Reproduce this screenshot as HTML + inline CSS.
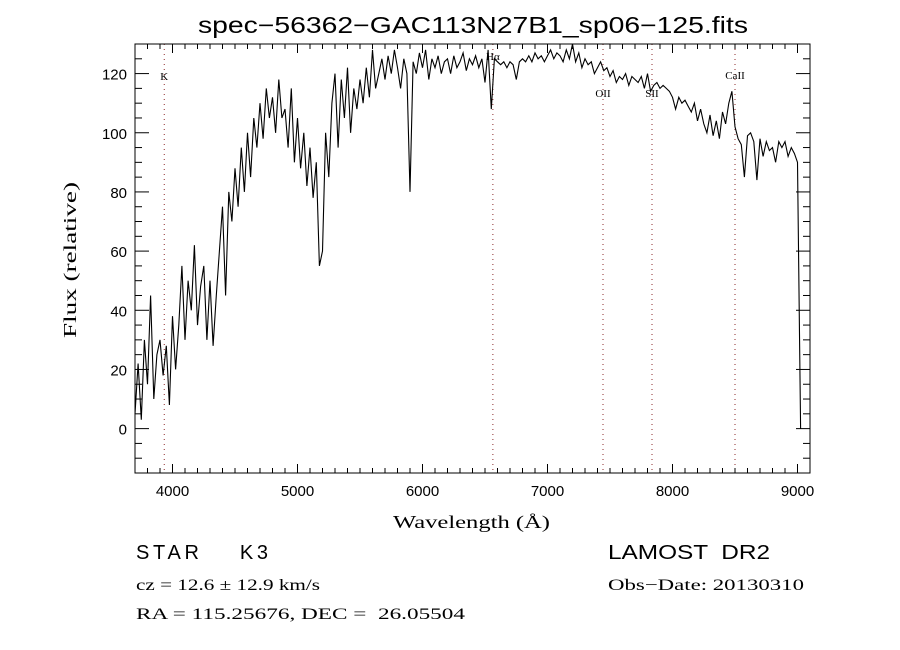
<!DOCTYPE html>
<html><head><meta charset="utf-8"><style>
body{margin:0;background:#fff;}
svg text{fill:#000;white-space:pre;}
</style></head><body>
<svg id="chart" width="900" height="650" xmlns="http://www.w3.org/2000/svg" xml:space="preserve" style="display:block;background:#fff">
<text x="198" y="33" textLength="550" lengthAdjust="spacingAndGlyphs" font-family="Liberation Sans, sans-serif" font-size="23">spec−56362−GAC113N27B1_sp06−125.fits</text>
<g id="lines"></g>
<g id="axes"></g>
<g id="series"></g>
<text x="393" y="528" textLength="157" lengthAdjust="spacingAndGlyphs" font-family="Liberation Serif, serif" font-size="18">Wavelength (Å)</text>
<text transform="translate(76,338) rotate(-90)" textLength="156" lengthAdjust="spacingAndGlyphs" font-family="Liberation Serif, serif" font-size="18">Flux (relative)</text>
<text x="136" y="559" textLength="132" lengthAdjust="spacing" font-family="Liberation Sans, sans-serif" font-size="20">STAR    K3</text>
<text x="608" y="559" textLength="162" lengthAdjust="spacingAndGlyphs" font-family="Liberation Sans, sans-serif" font-size="20">LAMOST  DR2</text>
<text x="136" y="590" textLength="184" lengthAdjust="spacingAndGlyphs" font-family="Liberation Serif, serif" font-size="16">cz = 12.6 ± 12.9 km/s</text>
<text x="608" y="590" textLength="196" lengthAdjust="spacingAndGlyphs" font-family="Liberation Serif, serif" font-size="16">Obs−Date: 20130310</text>
<text x="136" y="619" textLength="329" lengthAdjust="spacingAndGlyphs" font-family="Liberation Serif, serif" font-size="16">RA = 115.25676, DEC =  26.05504</text>
</svg>
<script>
const waveStart = 3700;
const waveStep = 25;
const flux = [5,22,3,30, 15,45,10,25, 30,18,28,8, 38,20,35,55, 30,50,40,62, 35,48,55,30, 50,28,45,60,
75,45,80,70, 88,75,95,80, 100,85,105,95, 110,98,115,105, 112,100,118,105, 108,95,115,90, 105,88,100,82,
95,78,90,55, 60,100,85,110, 120,95,118,105, 122,100,115,108, 118,110,122,112, 128,115,120,125,
118,126,120,128, 122,115,125,120, 80,124,120,127, 122,128,118,125, 122,126,120,124, 125,120,126,122,
124,127,121,125, 123,126,122,125, 117,128,108,125, 124,123,124,122, 124,123,118,124, 125,124,126,124,
127,125,126,124, 126,128,125,127, 126,124,128,125, 130,124,127,122, 125,123,124,120, 122,124,121,122,
119,121,117,119, 118,120,116,119, 118,117,119,115, 120,114,116,117, 115,116,115,114, 112,108,112,110,
111,109,107,110, 104,108,103,100, 106,99,104,98, 107,103,110,114, 102,98,96,85, 99,100,97,84,
98,92,97,94, 95,90,97,95, 97,92,95,93, 90,0];
const xTicks = [4000,5000,6000,7000,8000,9000];
const yTicks = [0,20,40,60,80,100,120];
const lineNames = ["K","Hα","OII","SII","CaII"];
const lineWaves = [3934,6563,7444,7836,8500];
const lineLabelY = [80,60,97,97,79];

const L=135,R=810,T=44,B=473, xMin=3700,xMax=9100,yMin=-15,yMax=130;
const X=w=>L+(w-xMin)/(xMax-xMin)*(R-L);
const Y=v=>B-(v-yMin)/(yMax-yMin)*(B-T);
const NS="http://www.w3.org/2000/svg";
function mk(tag,attrs,parent){const e=document.createElementNS(NS,tag);for(const k in attrs)e.setAttribute(k,attrs[k]);parent.appendChild(e);return e;}
const axes=document.getElementById('axes'), ser=document.getElementById('series'), lg=document.getElementById('lines');

lineWaves.forEach((w,i)=>{
  const l=mk('line',{x1:X(w),x2:X(w),y1:T,y2:B,stroke:'#8b2a2a','stroke-width':1,'stroke-dasharray':'1,4'},lg);
  
  
  const t=mk('text',{x:X(w),y:lineLabelY[i],'text-anchor':'middle','font-family':'Liberation Serif, serif','font-size':11},lg);
  
  
  t.textContent=lineNames[i];
});

let d='';
flux.forEach((v,i)=>{const w=waveStart+i*waveStep;d+=(i?'L':'M')+X(w).toFixed(1)+','+Y(v).toFixed(1);});
const p=mk('path',{d:d,fill:'none',stroke:'#000','stroke-width':1.1},ser);



const fr=mk('rect',{x:L,y:T,width:R-L,height:B-T,fill:'none',stroke:'#000','stroke-width':1},axes);


for(let w=3700;w<=9100;w+=100){
  const major=w%1000===0, len=major?9:5;
  mk('line',{x1:X(w),x2:X(w),y1:B,y2:B-len,stroke:'#000'},axes);
  mk('line',{x1:X(w),x2:X(w),y1:T,y2:T+len,stroke:'#000'},axes);
}
for(let v=-15;v<=130;v+=5){
  const major=v%20===0, len=major?14:7;
  mk('line',{x1:L,x2:L+len,y1:Y(v),y2:Y(v),stroke:'#000'},axes);
  mk('line',{x1:R,x2:R-len,y1:Y(v),y2:Y(v),stroke:'#000'},axes);
}
xTicks.forEach(w=>{
  const t=mk('text',{x:X(w),y:B+23,'text-anchor':'middle','font-family':'Liberation Sans, sans-serif','font-size':15},axes);
  
  
  t.textContent=w;
});
yTicks.forEach(v=>{
  const t=mk('text',{x:L-8,y:Y(v)+6,'text-anchor':'end','font-family':'Liberation Sans, sans-serif','font-size':15},axes);
  
  
  t.textContent=v;
});
</script>
</body></html>
